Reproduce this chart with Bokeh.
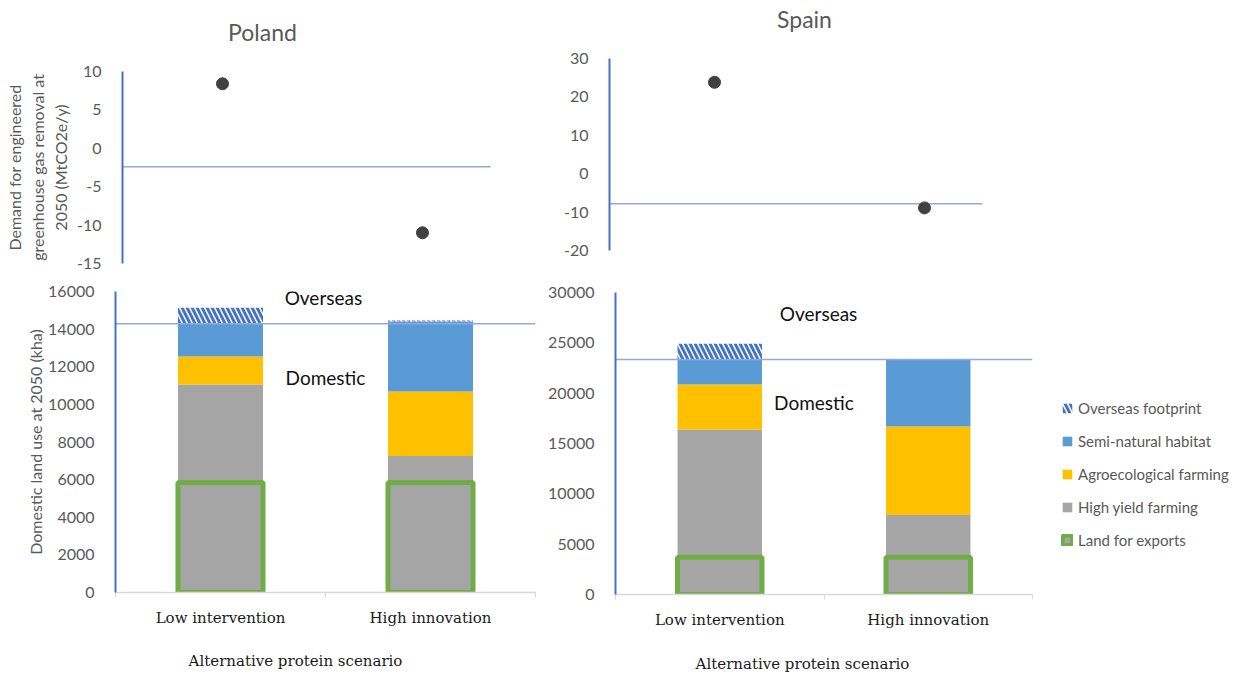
from bokeh.plotting import figure
from bokeh.models import Range1d, FixedTicker, Label, Legend, LegendItem
from bokeh.layouts import row, column
from bokeh.embed import file_html
from bokeh.resources import INLINE

# ---------------- data ----------------
scenarios = ["Low intervention", "High innovation"]

# Demand for engineered GHG removal at 2050 (MtCO2e/y)
poland_ggr = [8.4, -11.0]
spain_ggr = [23.8, -8.9]
poland_ggr_ref = -2.4
spain_ggr_ref = -7.8

# Domestic land use at 2050 (kha), stacked layers
poland_exports = [5850, 5850]
poland_high_yield = [5200, 1400]
poland_agro = [1500, 3430]
poland_semi = [1780, 3720]
poland_overseas = [800, 60]
poland_domestic_limit = 14280

spain_exports = [3700, 3700]
spain_high_yield = [12700, 4200]
spain_agro = [4450, 8800]
spain_semi = [2500, 6650]
spain_overseas = [1550, 0]
spain_domestic_limit = 23350

poland_top_ticks = [-15, -10, -5, 0, 5, 10]
spain_top_ticks = [-20, -10, 0, 10, 20, 30]
poland_bottom_ticks = [0, 2000, 4000, 6000, 8000, 10000, 12000, 14000, 16000]
spain_bottom_ticks = [0, 5000, 10000, 15000, 20000, 25000, 30000]

legend_labels = ["Overseas footprint", "Semi-natural habitat", "Agroecological farming",
                 "High yield farming", "Land for exports"]

# ---------------- style ----------------
SANS = "Lato"
SERIF = "DejaVu Serif"
GRAY = "#595959"
AXIS_BLUE = "#4472C4"
REF_BLUE = "#8FAADC"
C_SEMI = "#5B9BD5"
C_AGRO = "#FFC000"
C_HY = "#A5A5A5"
C_EXP = "#70AD47"
XS = [i + 0.5 for i in range(len(scenarios))]
HATCH = dict(hatch_pattern="\\", hatch_color=AXIS_BLUE, hatch_weight=3, hatch_scale=10)


def base(width, height, left, right, top, bottom, yr):
    p = figure(width=width, height=height, x_range=Range1d(0, len(scenarios)),
               y_range=Range1d(*yr), output_backend="svg", toolbar_location=None,
               min_border_left=left, min_border_right=right,
               min_border_top=top, min_border_bottom=bottom)
    p.frame_align = False
    p.grid.visible = False
    p.outline_line_color = None
    p.background_fill_color = "white"
    p.border_fill_color = "white"
    return p


def strip(width, height):
    s = figure(width=width, height=height, x_range=Range1d(0, 1), y_range=Range1d(0, 1),
               output_backend="svg", toolbar_location=None,
               min_border_left=0, min_border_right=0, min_border_top=0, min_border_bottom=0)
    s.frame_align = False
    s.axis.visible = False
    s.grid.visible = False
    s.outline_line_color = None
    return s


def style_y(p, ticks):
    p.yaxis.ticker = FixedTicker(ticks=ticks, minor_ticks=[])
    p.yaxis.major_label_overrides = {t: str(t) for t in ticks}
    p.yaxis.axis_line_color = AXIS_BLUE
    p.yaxis.axis_line_width = 2
    p.yaxis.major_tick_line_color = None
    p.yaxis.minor_tick_line_color = None
    p.yaxis.major_label_text_font = SANS
    p.yaxis.major_label_text_font_size = "16px"
    p.yaxis.major_label_text_color = GRAY
    p.yaxis.major_label_standoff = 15
    p.yaxis.axis_label_text_font = SANS
    p.yaxis.axis_label_text_font_style = "normal"
    p.yaxis.axis_label_text_font_size = "16px"
    p.yaxis.axis_label_text_color = GRAY


def lab(p, text, x, y, size, color="#111111", font=SANS, units="data"):
    p.add_layout(Label(x=x, y=y, x_units=units, y_units=units, text=text,
                       text_font=font, text_font_size=size,
                       text_color=color, text_align="center", text_baseline="middle"))


def top_panel(width, left, right, top, bottom, height, yr, ticks, vals, ref, ref_end):
    p = base(width, height, left, right, top, bottom, yr)
    p.xaxis.visible = False
    style_y(p, ticks)
    p.segment(x0=[0], y0=[ref], x1=[ref_end], y1=[ref], line_color=REF_BLUE, line_width=1.5)
    p.scatter(XS, vals, size=12, color="#404040")
    return p


def bottom_panel(width, left, right, top, bottom, height, yr, ticks,
                 exports, hy, agro, semi, overseas, limit):
    p = base(width, height, left, right, top, bottom, yr)
    style_y(p, ticks)
    p.xaxis.ticker = FixedTicker(ticks=XS, minor_ticks=[0, 1, 2])
    p.xaxis.major_label_overrides = {x: s for x, s in zip(XS, scenarios)}
    p.xaxis.axis_line_color = "#D9D9D9"
    p.xaxis.axis_line_width = 1.5
    p.xaxis.major_tick_line_color = None
    p.xaxis.minor_tick_line_color = "#D9D9D9"
    p.xaxis.minor_tick_out = 5
    p.xaxis.minor_tick_in = 0
    p.xaxis.major_label_text_font = SERIF
    p.xaxis.major_label_text_font_size = "15px"
    p.xaxis.major_label_text_color = "#1a1a1a"
    p.xaxis.major_label_standoff = 10

    b1 = list(exports)
    t1 = [a + b for a, b in zip(b1, hy)]
    t2 = [a + b for a, b in zip(t1, agro)]
    t3 = [a + b for a, b in zip(t2, semi)]
    t4 = [a + b for a, b in zip(t3, overseas)]
    w = 0.405
    p.vbar(x=XS, bottom=b1, top=t1, width=w, fill_color=C_HY, line_color=None)
    p.vbar(x=XS, bottom=t1, top=t2, width=w, fill_color=C_AGRO, line_color=None)
    p.vbar(x=XS, bottom=t2, top=t3, width=w, fill_color=C_SEMI, line_color=None)
    p.vbar(x=XS, bottom=t3, top=t4, width=w, fill_color="white", line_color=None, **HATCH)
    p.vbar(x=XS, bottom=0, top=exports, width=w, fill_color=C_HY,
           line_color=C_EXP, line_width=5)
    p.segment(x0=[0], y0=[limit], x1=[len(scenarios)], y1=[limit],
              line_color=REF_BLUE, line_width=1.5)
    return p


# ---- Poland column (x 0..545) ----
pl_title = strip(545, 45)
lab(pl_title, "Poland", 262, 14, "23px", color=GRAY, units="screen")

# frame x 122..522, y 71..263 (page)
pl_top = top_panel(545, 122, 23, 26, 17, 235, (-15, 10), poland_top_ticks,
                   poland_ggr, poland_ggr_ref, 1.84)
pl_top.yaxis.axis_label = "Demand for engineered\ngreenhouse gas removal at\n2050 (MtCO2e/y)"
pl_top.yaxis.axis_label_text_line_height = 1.2
pl_top.yaxis.axis_label_standoff = 4

# frame x 115..535, y 291..592 (page)
pl_bot = bottom_panel(545, 115, 10, 11, 48, 360, (0, 16000), poland_bottom_ticks,
                      poland_exports, poland_high_yield, poland_agro, poland_semi,
                      poland_overseas, poland_domestic_limit)
pl_bot.yaxis.axis_label = "Domestic land use at 2050 (kha)"
pl_bot.yaxis.axis_label_standoff = 0
lab(pl_bot, "Overseas", 0.99, 15680, "19px")
lab(pl_bot, "Domestic", 1.0, 11430, "19px")

pl_xlab = strip(545, 35)
lab(pl_xlab, "Alternative protein scenario", 295, 15, "15px", color="#1a1a1a",
    font=SERIF, units="screen")

# ---- Spain column (x 545..1040) ----
sp_title = strip(495, 45)
lab(sp_title, "Spain", 259, 27, "23px", color=GRAY, units="screen")

# frame x 609..1029, y 58..250 (page)
sp_top = top_panel(495, 64, 11, 13, 30, 235, (-20, 30), spain_top_ticks,
                   spain_ggr, spain_ggr_ref, 1.776)

# frame x 612..1032, y 292..594 (page)
sp_bot = bottom_panel(495, 67, 8, 12, 46, 360, (0, 30000), spain_bottom_ticks,
                      spain_exports, spain_high_yield, spain_agro, spain_semi,
                      spain_overseas, spain_domestic_limit)
lab(sp_bot, "Overseas", 0.974, 27940, "19px")
lab(sp_bot, "Domestic", 0.952, 19090, "19px")

sp_xlab = strip(495, 35)
lab(sp_xlab, "Alternative protein scenario", 257, 12, "15px", color="#1a1a1a",
    font=SERIF, units="screen")

# ---- Legend panel (x 1040..1251): zero-size proxy renderers carry the legend styling ----
leg = strip(211, 675)
proxy = dict(x=[0.5], bottom=[0.5], top=[0.5], width=0)
r_ov = leg.vbar(**proxy, fill_color="white", line_color=None, **HATCH)
r_semi = leg.vbar(**proxy, fill_color=C_SEMI, line_color=None)
r_agro = leg.vbar(**proxy, fill_color=C_AGRO, line_color=None)
r_hy = leg.vbar(**proxy, fill_color=C_HY, line_color=None)
r_exp = leg.vbar(**proxy, fill_color=C_HY, line_color=C_EXP, line_width=4)
rends = [r_ov, r_semi, r_agro, r_hy, r_exp]

legend = Legend(items=[LegendItem(label=l, renderers=[r]) for l, r in zip(legend_labels, rends)],
                location=(21, 126), orientation="vertical")
legend.background_fill_alpha = 0
legend.border_line_color = None
legend.padding = 0
legend.margin = 0
legend.spacing = 15
legend.glyph_height = 12
legend.glyph_width = 12
legend.label_height = 18
legend.label_standoff = 5
legend.label_text_font = SANS
legend.label_text_font_size = "15px"
legend.label_text_color = GRAY
leg.add_layout(legend)

layout = row(column(pl_title, pl_top, pl_bot, pl_xlab),
             column(sp_title, sp_top, sp_bot, sp_xlab), leg)
open("out.html", "w").write(file_html(layout, INLINE))
